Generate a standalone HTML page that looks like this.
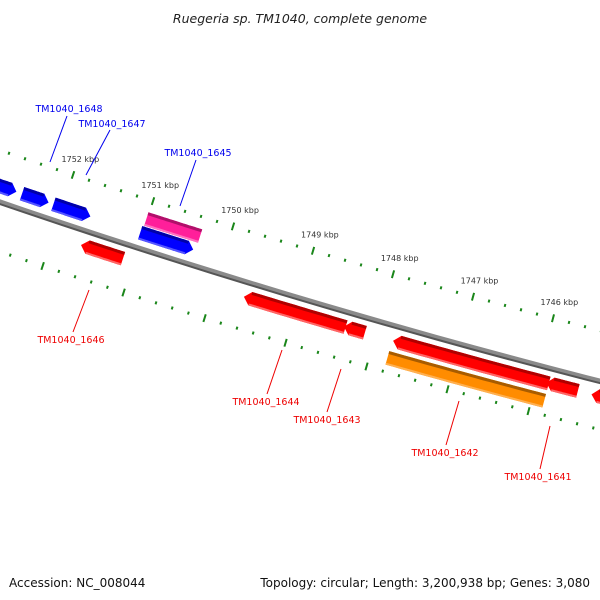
<!DOCTYPE html>
<html><head><meta charset="utf-8"><style>
body{margin:0;background:#fff;}
svg{display:block;font-family:"DejaVu Sans","Liberation Sans",sans-serif;}
</style></head><body>
<svg id="c" width="600" height="600" viewBox="0 0 600 600">
<text x="300" y="23" text-anchor="middle" font-size="12.5" font-style="italic" fill="#222">Ruegeria sp. TM1040, complete genome</text>
<text x="9" y="587" font-size="12" fill="#111">Accession: NC_008044</text>
<text x="590" y="587" font-size="12" fill="#111" text-anchor="end">Topology: circular; Length: 3,200,938 bp; Genes: 3,080</text>
<g id="g"></g>
</svg>
<script>
const majorTicks=[1753,1752,1751,1750,1749,1748,1747,1746,1745];
const tickLabels=["1752 kbp","1751 kbp","1750 kbp","1749 kbp","1748 kbp","1747 kbp","1746 kbp"];
const tickLabelPos=[1752,1751,1750,1749,1748,1747,1746];
const geneStarts=[1752.95,1752.50,1752.11,1751.03,1751.01,1751.65,1749.63,1748.39,1747.78,1747.79,1745.88,1745.32];
const geneEnds=[1752.57,1752.17,1751.65,1750.37,1750.34,1751.13,1748.37,1748.13,1745.85,1745.85,1745.49,1744.90];
const geneColors=["blue","blue","blue","blue","pink","red","red","red","red","orange","red","red"];
const geneOffsets=[15,15,15,15,30,-15,-15,-15,-15,-33,-15,-15];
const geneDirs=[1,1,1,1,0,-1,-1,-1,-1,0,-1,-1];
const geneLabels=["TM1040_1648","TM1040_1647","TM1040_1645","TM1040_1646","TM1040_1644","TM1040_1643","TM1040_1642","TM1040_1641"];
const labelColors=["#0000ee","#0000ee","#0000ee","#ee0000","#ee0000","#ee0000","#ee0000","#ee0000"];
const labelX=[69,112,198,71,266,327,445,538];
const labelY=[112,127,156,343,405,423,456,480];
const lineX1=[67,110,196,89,282,341,459,550];
const lineY1=[116,130,160,290,350,369,401,426];
const lineX2=[50,86,180,73,267,327,446,540];
const lineY2=[162,175,206,332,394,412,445,469];

const NS="http://www.w3.org/2000/svg";
const G=document.getElementById('g');
const A=0.3417,B=-7.2e-5;
function xb(k){return 57.5+(1752-k)*80.5;}
function pt(k,off){const x=xb(k);const y=202+A*x+B*x*x;const s=A+2*B*x;const n=Math.sqrt(1+s*s);return [x+off*s/n,y-off/n];}
function mk(t,attrs){const e=document.createElementNS(NS,t);for(const k in attrs)e.setAttribute(k,attrs[k]);G.appendChild(e);return e;}
function band(k1,k2,o1,o2){const pts=[];const N=20;for(let i=0;i<=N;i++){pts.push(pt(k1+(k2-k1)*i/N,o1));}for(let i=N;i>=0;i--){pts.push(pt(k1+(k2-k1)*i/N,o2));}return pts.map(p=>p[0].toFixed(1)+","+p[1].toFixed(1)).join(" ");}

let bb=mk('polygon',{points:band(1753.8,1744.5,2.5,-2.5),fill:'#8a8a8a'});


let bb2=mk('polygon',{points:band(1753.8,1744.5,-1,-3),fill:'#555'});



const tickColor='#1a861a';
for(let i=0;i<majorTicks.length-1;i++){
  for(let j=0;j<5;j++){
    const k=majorTicks[i]-j*0.2;
    const major=j===0;
    [49,-47].forEach(off=>{
      const L=major?4:1.5;
      const p1=pt(k,off-L),p2=pt(k,off+L);
      const t=mk('line',{x1:p1[0],y1:p1[1],x2:p2[0],y2:p2[1],stroke:tickColor,'stroke-width':2});
      
      
    });
  }
}
tickLabels.forEach((lab,i)=>{
  const p=pt(tickLabelPos[i],66);
  const t=mk('text',{x:p[0]+2,y:p[1]+3,'font-size':8,fill:'#333','text-anchor':'middle'});
  t.textContent=lab;
  
  
});

const pal={blue:['#0000ff','#0000a8','#5555ff'],red:['#ff0000','#b00000','#ff6666'],pink:['#ff1f9a','#b0106a','#ff70c0'],orange:['#ff8c00','#a85c00','#ffb050']};
geneStarts.forEach((s,i)=>{
  const e=geneEnds[i],o=geneOffsets[i],h=7,c=pal[geneColors[i]],d=geneDirs[i];
  let a=s,b=e;const ah=0.08;
  if(d===1)b=e+ah; if(d===-1)a=s-ah;
  let pts=[];const N=20;
  for(let j=0;j<=N;j++)pts.push(pt(a+(b-a)*j/N,o+h));
  if(d===1)pts.push(pt(e,o));
  for(let j=N;j>=0;j--)pts.push(pt(a+(b-a)*j/N,o-h));
  if(d===-1)pts.push(pt(s,o));
  const g=mk('polygon',{points:pts.map(p=>p[0].toFixed(1)+","+p[1].toFixed(1)).join(" "),fill:c[0]});
  
  
  const top=mk('polygon',{points:band(a,b,o+h,o+h-3),fill:c[1]});
  
  
  const bot=mk('polygon',{points:band(a,b,o-h+2,o-h),fill:c[2]});
  
  
});

geneLabels.forEach((lab,i)=>{
  const l=mk('line',{x1:lineX1[i],y1:lineY1[i],x2:lineX2[i],y2:lineY2[i],stroke:labelColors[i],'stroke-width':1});
  
  
  const t=mk('text',{x:labelX[i],y:labelY[i],'font-size':9.5,fill:labelColors[i],'text-anchor':'middle'});
  t.textContent=lab;
  
  
});
</script>
</body></html>
